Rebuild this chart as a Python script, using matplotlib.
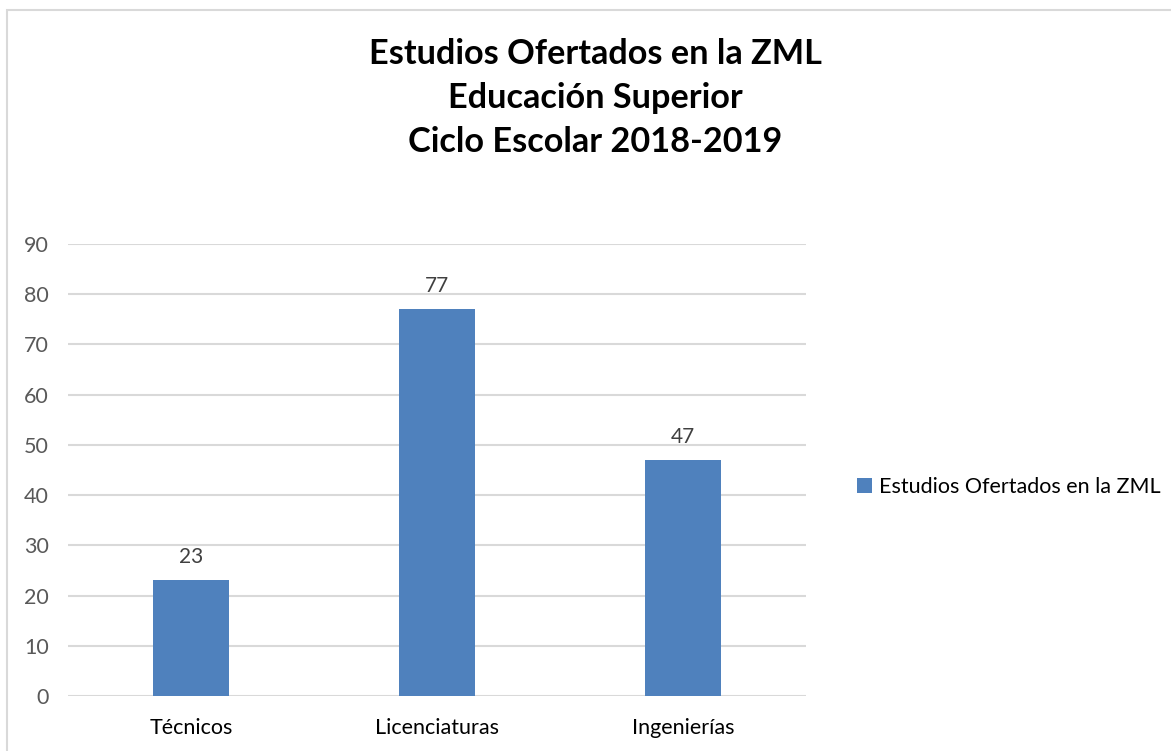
import matplotlib.pyplot as plt
from matplotlib.patches import Rectangle

categories = ["Técnicos", "Licenciaturas", "Ingenierías"]
values = [23, 77, 47]
series_name = "Estudios Ofertados en la ZML"
title = "Estudios Ofertados en la ZML\nEducación Superior\nCiclo Escolar 2018-2019"
yticks = list(range(0, 100, 10))

bar_color = "#4F81BD"
plt.rcParams["font.family"] = ["Lato", "DejaVu Sans"]

fig = plt.figure(figsize=(11.71, 7.51), dpi=100)
W, H = 1171, 751

# chart border (only top and left visible in the crop)
fig.patches.append(Rectangle((7 / W, -0.1), 1.2, 1 - 10 / H + 0.1, transform=fig.transFigure,
                             fill=False, edgecolor="#D9D9D9", linewidth=1.5))

ax = fig.add_axes([68 / W, 1 - 696 / H, (806 - 68) / W, (696 - 244) / H])
x = range(len(categories))
bars = ax.bar(x, values, width=0.313, color=bar_color, zorder=3, label=series_name)
for b, v in zip(bars, values):
    ax.text(b.get_x() + b.get_width() / 2, v + 2.6, str(v), ha="center", va="bottom",
            fontsize=15, color="#404040")

ax.set_xlim(-0.5, 2.5)
ax.set_ylim(0, 90)
ax.set_yticks(yticks)
ax.set_xticks(list(x))
ax.set_xticklabels(categories)
ax.yaxis.grid(True, color="#D9D9D9", linewidth=1.5, zorder=0)
for s in ax.spines.values():
    s.set_visible(False)
ax.tick_params(axis="both", length=0, labelsize=15.5, labelcolor="#595959")
ax.tick_params(axis="y", pad=14)
ax.tick_params(axis="x", pad=16, labelcolor="#000000")
ax.set_axisbelow(True)

fig.text(595 / W, 1 - 98 / H, title, ha="center", va="center", fontsize=24.7,
         fontweight="bold", linespacing=1.45)

fig.legend(handles=[bars], labels=[series_name], loc="center left",
           bbox_to_anchor=(838 / W, 1 - 487 / H), frameon=False, fontsize=15.5,
           handlelength=0.7, handleheight=0.7, handletextpad=0.3)

fig.savefig("out.png", dpi=100)
